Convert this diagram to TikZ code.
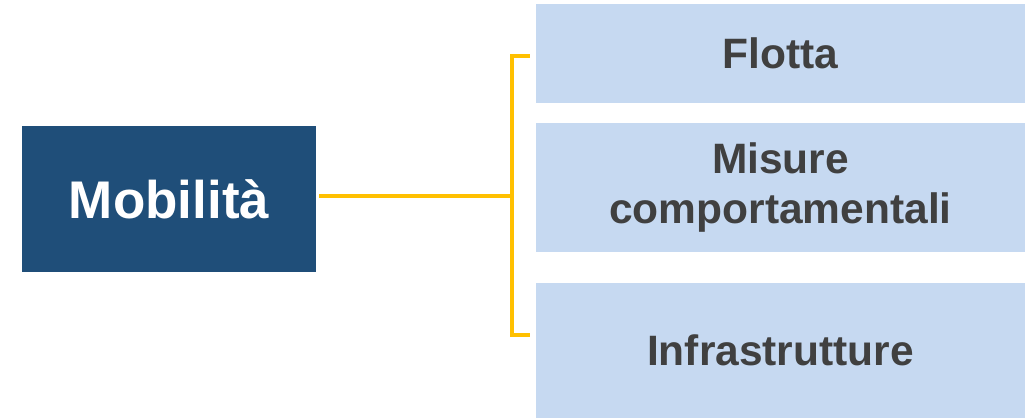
\documentclass[tikz,border=0pt]{standalone}
\usepackage{fontspec}
\setmainfont{Liberation Sans}
\usepackage{tikz}

\definecolor{mobblue}{HTML}{1F4E79}
\definecolor{boxblue}{HTML}{C6D9F1}
\definecolor{textgray}{HTML}{404040}
\definecolor{bracketyellow}{HTML}{FFC000}

\begin{document}
\begin{tikzpicture}[x=1pt, y=-1pt]
    \tikzstyle{topic}=[rectangle, inner sep=0pt, font=\bfseries\fontsize{53}{60}\selectfont]
    \tikzstyle{main topic}=[topic, fill=mobblue, text=white, minimum width=294pt, minimum height=146pt]
    \tikzstyle{sub topic}=[topic, fill=boxblue, text=textgray, minimum width=489pt, align=center, font=\bfseries\fontsize{42.5}{50}\selectfont]
    \tikzstyle{bracket}=[draw=bracketyellow, line width=4pt]

    \useasboundingbox (0,0) rectangle (1033,419);

% Nodes
    \node[main topic] (M) at (169,199) {Mobilità};

    % Sub topics
    \node[sub topic, minimum height=99pt] (S-1) at (780.5,53.5) {Flotta};
    \node[sub topic, minimum height=129pt] (S-2) at (780.5,187.5) {Misure\\comportamentali};
    \node[sub topic, minimum height=135pt] (S-3) at (780.5,350.5) {Infrastrutture};

    % Bracket corners
    \coordinate (B-top) at (512,56);
    \coordinate (B-mid) at (512,196);
    \coordinate (B-bot) at (512,335);

% Paths
    \draw[bracket] ([xshift=3pt]M.east |- B-mid) -- (B-mid);
    \draw[bracket] ([xshift=-6pt]S-1.west |- B-top) -- (B-top) -- (B-bot) -- ([xshift=-6pt]S-3.west |- B-bot);

\end{tikzpicture}
\end{document}
